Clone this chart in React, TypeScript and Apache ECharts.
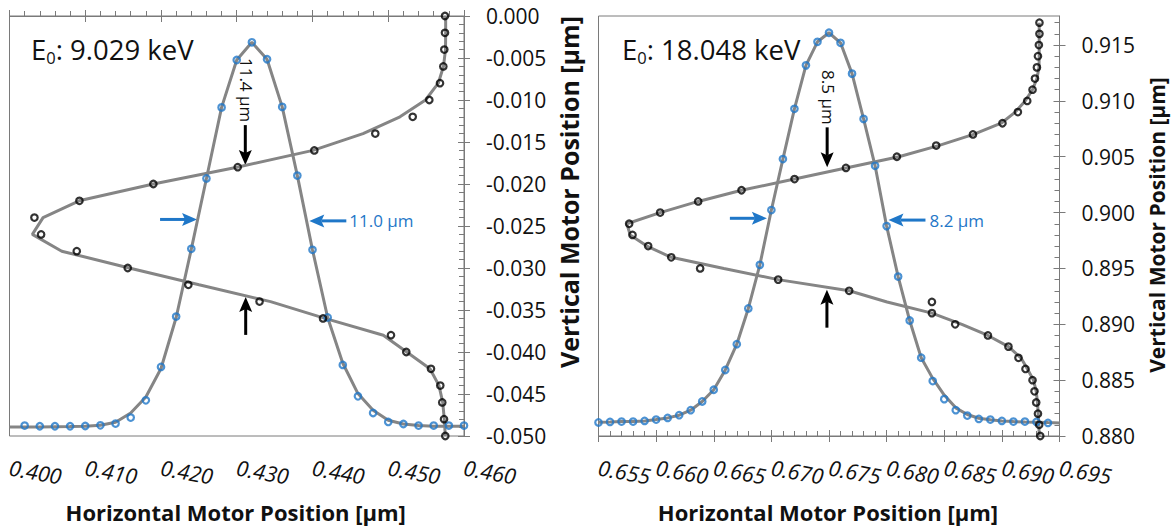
import React, { useEffect, useRef } from 'react';
import * as echarts from 'echarts';

const FONT = "'Open Sans', 'DejaVu Sans', sans-serif";
const BLUE = '#1f77c8';
const GRAY = '#858585';
const AXIS = '#7a7a7a';
const INK = '#111111';

// ---------- Panel 1 (E0 = 9.029 keV) ----------
const p1Title = '9.029 keV';
const p1XTickLabels = ['0.400', '0.410', '0.420', '0.430', '0.440', '0.450', '0.460'];
const p1YTickLabels = ['-0.050', '-0.045', '-0.040', '-0.035', '-0.030', '-0.025', '-0.020', '-0.015', '-0.010', '-0.005', '0.000'];

const p1BlueX = [0.402, 0.404, 0.406, 0.408, 0.410, 0.412, 0.414, 0.416, 0.418, 0.420, 0.422, 0.424, 0.426, 0.428, 0.430,
  0.432, 0.434, 0.436, 0.438, 0.440, 0.442, 0.444, 0.446, 0.448, 0.450, 0.452, 0.454, 0.456, 0.458, 0.460];
const p1BlueY = [-0.04876, -0.04884, -0.04884, -0.04884, -0.04881, -0.04873, -0.04852, -0.04781, -0.04575, -0.04178,
  -0.03578, -0.02772, -0.01934, -0.01088, -0.00524, -0.00313, -0.00515, -0.01082, -0.01900, -0.02784,
  -0.03589, -0.04154, -0.04527, -0.04726, -0.04833, -0.04857, -0.04876, -0.04876, -0.04876, -0.04876];

const p1FitBlueX = [0.400, 0.402, 0.404, 0.406, 0.408, 0.410, 0.412, 0.414, 0.416, 0.418, 0.420, 0.422, 0.424, 0.426, 0.428,
  0.430, 0.432, 0.434, 0.436, 0.438, 0.440, 0.442, 0.444, 0.446, 0.448, 0.450, 0.452, 0.454, 0.456, 0.458, 0.460];
const p1FitBlueY = [-0.04893, -0.04893, -0.04893, -0.04890, -0.04888, -0.04884, -0.04873, -0.04837, -0.04726, -0.04535,
  -0.04197, -0.03589, -0.02776, -0.01934, -0.01088, -0.00524, -0.00313, -0.00515, -0.01082, -0.01900,
  -0.02784, -0.03589, -0.04134, -0.04495, -0.04694, -0.04813, -0.04857, -0.04876, -0.04884, -0.04884, -0.04884];

const p1BlackY = [0.000, -0.002, -0.004, -0.006, -0.008, -0.010, -0.012, -0.014, -0.016, -0.018, -0.020, -0.022, -0.024,
  -0.026, -0.028, -0.030, -0.032, -0.034, -0.036, -0.038, -0.040, -0.042, -0.044, -0.046, -0.048, -0.050];
const p1BlackX = [0.45749, 0.45749, 0.45740, 0.45727, 0.45683, 0.45542, 0.45323, 0.44829, 0.44024, 0.43013, 0.41899,
  0.40923, 0.40329, 0.40417, 0.40888, 0.41561, 0.42361, 0.43301, 0.44139, 0.45036, 0.45238, 0.45564, 0.45687,
  0.45713, 0.45736, 0.45753];
const p1FitBlackX = [0.45758, 0.45758, 0.45756, 0.45729, 0.45661, 0.45492, 0.45155, 0.44667, 0.44007, 0.43004, 0.41899,
  0.40919, 0.40443, 0.40302, 0.40690, 0.41580, 0.42502, 0.43446, 0.44165, 0.44935, 0.45244, 0.45551, 0.45670,
  0.45719, 0.45740, 0.45753];

// annotation anchors (data coordinates)
const p1ArrowDownTip = [0.43113, -0.01775];
const p1ArrowUpTip = [0.43118, -0.03344];
const p1ArrowRightTip = [0.42476, -0.02422];
const p1ArrowLeftTip = [0.43958, -0.02439];
const p1VLabel = '11.4 µm';
const p1HLabel = '11.0 µm';

// ---------- Panel 2 (E0 = 18.048 keV) ----------
const p2Title = '18.048 keV';
const p2XTickLabels = ['0.655', '0.660', '0.665', '0.670', '0.675', '0.680', '0.685', '0.690', '0.695'];
const p2YTicks = [0.880, 0.885, 0.890, 0.895, 0.900, 0.905, 0.910, 0.915];
const p2YMinorTicks = [0.881, 0.882, 0.883, 0.884, 0.886, 0.887, 0.888, 0.889, 0.891, 0.892, 0.893, 0.894, 0.896, 0.897,
  0.898, 0.899, 0.901, 0.902, 0.903, 0.904, 0.906, 0.907, 0.908, 0.909, 0.911, 0.912, 0.913, 0.914, 0.916, 0.917];

const p2BlueX = [0.655, 0.656, 0.657, 0.658, 0.659, 0.660, 0.661, 0.662, 0.663, 0.664, 0.665, 0.666, 0.667, 0.668, 0.669,
  0.670, 0.671, 0.672, 0.673, 0.674, 0.675, 0.676, 0.677, 0.678, 0.679, 0.680, 0.681, 0.682, 0.683, 0.684,
  0.685, 0.686, 0.687, 0.688, 0.689, 0.690, 0.691, 0.692, 0.693, 0.694];
const p2BlueY = [0.88121, 0.88126, 0.88129, 0.88129, 0.88135, 0.88147, 0.88162, 0.88186, 0.88231, 0.88309, 0.88414,
  0.88591, 0.88822, 0.89142, 0.89532, 0.90023, 0.90479, 0.90929, 0.91318, 0.91529, 0.91610, 0.91520, 0.91244,
  0.90839, 0.90419, 0.89879, 0.89427, 0.89034, 0.88701, 0.88492, 0.88330, 0.88231, 0.88183, 0.88153, 0.88147,
  0.88135, 0.88129, 0.88129, 0.88126, 0.88117];

const p2FitBlueX = [0.655, 0.656, 0.657, 0.658, 0.659, 0.660, 0.661, 0.662, 0.663, 0.664, 0.665, 0.666, 0.667, 0.668,
  0.669, 0.670, 0.671, 0.672, 0.673, 0.674, 0.675, 0.676, 0.677, 0.678, 0.679, 0.680, 0.681, 0.682, 0.683, 0.684,
  0.685, 0.686, 0.687, 0.688, 0.689, 0.690, 0.691, 0.692, 0.693, 0.694, 0.695];
const p2FitBlueY = [0.88124, 0.88126, 0.88129, 0.88130, 0.88135, 0.88147, 0.88162, 0.88186, 0.88231, 0.88309, 0.88414,
  0.88591, 0.88822, 0.89142, 0.89532, 0.90023, 0.90479, 0.90929, 0.91318, 0.91529, 0.91610, 0.91520, 0.91244,
  0.90839, 0.90419, 0.89879, 0.89427, 0.89034, 0.88701, 0.88516, 0.88366, 0.88252, 0.88192, 0.88159, 0.88145,
  0.88135, 0.88129, 0.88126, 0.88124, 0.88120, 0.88117];

const p2BlackY = [0.917, 0.916, 0.915, 0.914, 0.913, 0.912, 0.911, 0.910, 0.909, 0.908, 0.907, 0.906, 0.905, 0.904,
  0.903, 0.902, 0.901, 0.900, 0.899, 0.898, 0.897, 0.896, 0.895, 0.894, 0.893, 0.892, 0.891, 0.890, 0.889,
  0.888, 0.887, 0.886, 0.885, 0.884, 0.883, 0.882, 0.881, 0.880];
const p2BlackX = [0.69326, 0.69326, 0.69321, 0.69313, 0.69304, 0.69287, 0.69266, 0.69220, 0.69139, 0.69005, 0.68749,
  0.68430, 0.68089, 0.67647, 0.67201, 0.66741, 0.66365, 0.66035, 0.65766, 0.65795, 0.65931, 0.66131, 0.66382,
  0.67059, 0.67675, 0.68393, 0.68393, 0.68595, 0.68879, 0.69057, 0.69144, 0.69205, 0.69266, 0.69283, 0.69298,
  0.69313, 0.69324, 0.69333];
const p2FitBlackX = [0.69324, 0.69324, 0.69324, 0.69324, 0.69322, 0.69304, 0.69266, 0.69202, 0.69116, 0.68994, 0.68754,
  0.68450, 0.68106, 0.67647, 0.67201, 0.66741, 0.66365, 0.66035, 0.65746, 0.65775, 0.65920, 0.66131, 0.66588,
  0.67059, 0.67675, 0.68004, 0.68393, 0.68653, 0.68879, 0.69057, 0.69165, 0.69222, 0.69274, 0.69298, 0.69309,
  0.69315, 0.69321, 0.69324];

const p2ArrowDownTip = [0.67484, 0.90405];
const p2ArrowUpTip = [0.67482, 0.89310];
const p2ArrowRightTip = [0.66961, 0.89949];
const p2ArrowLeftTip = [0.68016, 0.89933];
const p2VLabel = '8.5 µm';
const p2HLabel = '8.2 µm';

const xName = 'Horizontal Motor Position [µm]';
const yName = 'Vertical Motor Position [µm]';

function zip(xs: number[], ys: number[]) {
  return xs.map((x, i) => [x, ys[i]]);
}

const fmt3 = (v: number) => v.toFixed(3);

function xAxisPair(gridIndex: number, min: number, max: number, interval: number) {
  return [
    {
      type: 'value', gridIndex, min, max, interval, position: 'bottom',
      axisLine: { show: true, lineStyle: { color: AXIS, width: 1 } },
      axisTick: { show: true, inside: false, length: 6, lineStyle: { color: AXIS } },
      minorTick: { show: false },
      splitLine: { show: false },
      axisLabel: {
        show: true, formatter: fmt3, rotate: -10, margin: 31, color: INK,
        fontFamily: FONT, fontSize: 21.5, fontStyle: 'italic',
        showMinLabel: true, showMaxLabel: true,
      },
    },
    {
      type: 'value', gridIndex, min, max, interval, position: 'bottom',
      axisLine: { show: false },
      axisTick: { show: true, inside: true, length: 6, lineStyle: { color: AXIS } },
      minorTick: { show: true, splitNumber: 5, length: 5, lineStyle: { color: AXIS } },
      splitLine: { show: false },
      axisLabel: { show: false },
    },
  ];
}

export default function App() {
  const ref = useRef<HTMLDivElement>(null);

  useEffect(() => {
    const el = ref.current;
    if (!el) return;
    const chart = echarts.init(el, null, { renderer: 'svg' });

    const lineStyle = { color: GRAY, width: 3 };
    const blueItem = { color: 'rgba(0,0,0,0)', borderColor: BLUE, borderWidth: 2.2 };
    const blackItem = { color: 'rgba(0,0,0,0)', borderColor: '#000', borderWidth: 2.2 };
    const yLabel = { formatter: fmt3, margin: 22, color: INK, fontFamily: FONT, fontSize: 21 };

    const option: any = {
      animation: false,
      grid: [
        { left: 9.5, top: 16, width: 454.5, height: 420, show: true, borderColor: AXIS, borderWidth: 1, backgroundColor: 'transparent' },
        { left: 598.5, top: 16, width: 461, height: 420, show: true, borderColor: AXIS, borderWidth: 1, backgroundColor: 'transparent' },
      ],
      xAxis: [
        ...xAxisPair(0, 0.4, 0.46, 0.01),
        ...xAxisPair(1, 0.655, 0.695, 0.005),
      ],
      yAxis: [
        {
          type: 'value', gridIndex: 0, min: -0.05, max: 0, interval: 0.005, position: 'right',
          axisLine: { show: true, lineStyle: { color: AXIS, width: 1 } },
          axisTick: { show: true, inside: false, length: 6, lineStyle: { color: AXIS } },
          splitLine: { show: false },
          axisLabel: yLabel,
        },
        {
          type: 'value', gridIndex: 0, min: -0.05, max: 0, interval: 0.005, position: 'right',
          axisLine: { show: false },
          axisTick: { show: true, inside: true, length: 6, lineStyle: { color: AXIS } },
          minorTick: { show: true, splitNumber: 5, length: 5, lineStyle: { color: AXIS } },
          splitLine: { show: false },
          axisLabel: { show: false },
        },
        {
          type: 'value', gridIndex: 1, min: 0.88, max: 0.9176, position: 'right',
          axisLine: { show: true, lineStyle: { color: AXIS, width: 1 } },
          axisTick: { show: true, inside: false, length: 6, lineStyle: { color: AXIS }, customValues: p2YTicks },
          splitLine: { show: false },
          axisLabel: { ...yLabel, customValues: p2YTicks },
        },
        {
          type: 'value', gridIndex: 1, min: 0.88, max: 0.9176, position: 'right',
          axisLine: { show: false },
          axisTick: { show: true, inside: true, length: 6, lineStyle: { color: AXIS }, customValues: p2YTicks },
          splitLine: { show: false },
          axisLabel: { show: false },
        },
        {
          type: 'value', gridIndex: 1, min: 0.88, max: 0.9176, position: 'right',
          axisLine: { show: false },
          axisTick: { show: true, inside: true, length: 5, lineStyle: { color: AXIS }, customValues: p2YMinorTicks },
          splitLine: { show: false },
          axisLabel: { show: false },
        },
      ],
      series: [
        { type: 'line', xAxisIndex: 0, yAxisIndex: 0, data: zip(p1FitBlueX, p1FitBlueY), symbol: 'none', showSymbol: false, lineStyle, z: 2, silent: true },
        { type: 'line', xAxisIndex: 0, yAxisIndex: 0, data: zip(p1FitBlackX, p1BlackY), symbol: 'none', showSymbol: false, lineStyle, z: 2, silent: true },
        { type: 'scatter', xAxisIndex: 0, yAxisIndex: 0, data: zip(p1BlueX, p1BlueY), symbol: 'circle', symbolSize: 6.5, itemStyle: blueItem, z: 3, silent: true },
        { type: 'scatter', xAxisIndex: 0, yAxisIndex: 0, data: zip(p1BlackX, p1BlackY), symbol: 'circle', symbolSize: 6.5, itemStyle: blackItem, z: 3, silent: true },
        { type: 'line', xAxisIndex: 2, yAxisIndex: 2, data: zip(p2FitBlueX, p2FitBlueY), symbol: 'none', showSymbol: false, lineStyle, z: 2, silent: true },
        { type: 'line', xAxisIndex: 2, yAxisIndex: 2, data: zip(p2FitBlackX, p2BlackY), symbol: 'none', showSymbol: false, lineStyle, z: 2, silent: true },
        { type: 'scatter', xAxisIndex: 2, yAxisIndex: 2, data: zip(p2BlueX, p2BlueY), symbol: 'circle', symbolSize: 6.5, itemStyle: blueItem, z: 3, silent: true },
        { type: 'scatter', xAxisIndex: 2, yAxisIndex: 2, data: zip(p2BlackX, p2BlackY), symbol: 'circle', symbolSize: 6.5, itemStyle: blackItem, z: 3, silent: true },
      ],
    };
    chart.setOption(option);

    const toPx = (seriesIndex: number, p: number[]) =>
      chart.convertToPixel({ seriesIndex } as any, p) as unknown as number[];

    const arrowV = (tip: number[], up: boolean, len: number, color: string) => {
      const s = up ? 1 : -1;
      const tail = tip[1] + s * len;
      const base = tip[1] + s * 15;
      const notch = tip[1] + s * 12;
      return [
        { type: 'line', shape: { x1: tip[0], y1: tail, x2: tip[0], y2: notch }, style: { stroke: color, lineWidth: 3 }, silent: true },
        { type: 'polygon', shape: { points: [[tip[0], tip[1]], [tip[0] + 6.5, base], [tip[0], notch], [tip[0] - 6.5, base]] }, style: { fill: color }, silent: true },
      ];
    };
    const arrowH = (tip: number[], fromLeft: boolean, len: number, color: string) => {
      const s = fromLeft ? -1 : 1;
      const tail = tip[0] + s * len;
      const base = tip[0] + s * 15;
      const notch = tip[0] + s * 12;
      return [
        { type: 'line', shape: { x1: tail, y1: tip[1], x2: notch, y2: tip[1] }, style: { stroke: color, lineWidth: 3 }, silent: true },
        { type: 'polygon', shape: { points: [[tip[0], tip[1]], [base, tip[1] - 6.5], [notch, tip[1]], [base, tip[1] + 6.5]] }, style: { fill: color }, silent: true },
      ];
    };
    const text = (x: number, y: number, str: string, opts: any) => ({
      type: 'text', x, y, rotation: opts.rotation || 0, silent: true,
      style: {
        text: str, fill: opts.color || INK, fontFamily: FONT, fontSize: opts.fontSize || 17,
        fontWeight: opts.fontWeight || 'normal',
        align: opts.align || 'center', textAlign: opts.align || 'center',
        verticalAlign: 'middle', textVerticalAlign: 'middle',
      },
    });
    const title = (x: number, y: number, value: string) => ({
      type: 'text', x, y, silent: true,
      style: {
        text: '{a|E}{s|0}{a|: ' + value + '}',
        fill: INK, fontFamily: FONT,
        align: 'left', textAlign: 'left', verticalAlign: 'top', textVerticalAlign: 'top',
        rich: {
          a: { fontSize: 27.5, lineHeight: 34, fontFamily: FONT, fill: INK },
          s: { fontSize: 16.5, lineHeight: 16, fontFamily: FONT, fill: INK, verticalAlign: 'bottom' },
        },
      },
    });

    const panels = [
      { si: 0, down: p1ArrowDownTip, up: p1ArrowUpTip, right: p1ArrowRightTip, left: p1ArrowLeftTip, vl: p1VLabel, hl: p1HLabel, vOff: 75, hOff: 40, title: p1Title, tx: 31, gi: 0 },
      { si: 4, down: p2ArrowDownTip, up: p2ArrowUpTip, right: p2ArrowRightTip, left: p2ArrowLeftTip, vl: p2VLabel, hl: p2HLabel, vOff: 70, hOff: 41, title: p2Title, tx: 622, gi: 1 },
    ];
    const grids = option.grid;
    const graphics: any[] = [];
    panels.forEach((p) => {
      const d = toPx(p.si, p.down);
      const u = toPx(p.si, p.up);
      const r = toPx(p.si, p.right);
      const l = toPx(p.si, p.left);
      graphics.push(...arrowV(d, false, 40, '#000'));
      graphics.push(...arrowV(u, true, 38, '#000'));
      graphics.push(...arrowH(r, true, 37, BLUE));
      graphics.push(...arrowH(l, false, 37, BLUE));
      graphics.push(text(d[0] + 1, d[1] - p.vOff, p.vl, { rotation: -Math.PI / 2, fontSize: 17 }));
      graphics.push(text(l[0] + p.hOff, l[1], p.hl, { align: 'left', fontSize: 17, color: BLUE }));
      graphics.push(title(p.tx, 32, p.title));
      const g = grids[p.gi];
      graphics.push(text(g.left + g.width / 2 - 1, 512, xName, { fontSize: 22, fontWeight: 'bold' }));
    });
    graphics.push(text(569, 192, yName, { rotation: Math.PI / 2, fontSize: 25, fontWeight: 'bold' }));
    graphics.push(text(1157, 225, yName, { rotation: Math.PI / 2, fontSize: 21, fontWeight: 'bold' }));

    chart.setOption({ graphic: graphics });

    return () => {
      chart.dispose();
    };
  }, []);

  return (
    <div
      ref={ref}
      style={{ position: 'absolute', left: 0, top: 0, width: 1175, height: 530, background: '#ffffff' }}
    />
  );
}
